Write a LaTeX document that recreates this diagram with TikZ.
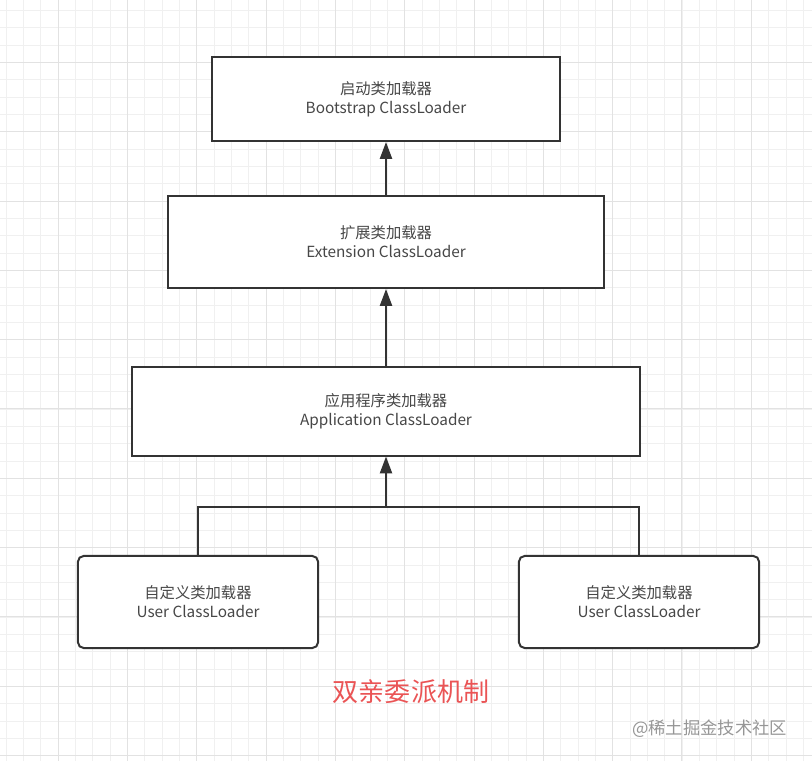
\documentclass[tikz,border=0pt]{standalone}
\usepackage{fontspec}
\setmainfont{Noto Sans CJK SC}
\usetikzlibrary{arrows.meta, positioning}
\definecolor{boxline}{RGB}{51, 51, 51}
\definecolor{minorgrid}{RGB}{240, 240, 240}
\definecolor{majorgrid}{RGB}{226, 226, 226}
\definecolor{titlered}{RGB}{234, 84, 85}
\definecolor{markgray}{RGB}{150, 150, 150}
\tikzset{
  loaderbox/.style={rectangle, draw=boxline, fill=white, line width=0.05cm, align=center, font=\fontsize{10.9}{13.5}\selectfont, text=boxline!90},
  userbox/.style={loaderbox, rounded corners=4pt},
  parentarrow/.style={draw=boxline, line width=0.05cm, -{Triangle[length=0.42cm, width=0.3cm]}},
  link/.style={draw=boxline, line width=0.05cm},
}
\begin{document}
\begin{tikzpicture}[x=0.025cm, y=-0.025cm]
\useasboundingbox (0,0) rectangle (812,761);
% grid
\foreach \k in {0,...,46} {
  \draw[minorgrid, line width=0.6pt] ({6.1+17.33*\k},0) -- ({6.1+17.33*\k},761);
}
\foreach \k in {0,...,43} {
  \draw[minorgrid, line width=0.6pt] (0,{10.4+17.33*\k}) -- (812,{10.4+17.33*\k});
}
\foreach \k in {0,...,11} {
  \draw[majorgrid, line width=0.6pt] ({58+69.32*\k},0) -- ({58+69.32*\k},761);
  \draw[majorgrid, line width=0.6pt] (0,{62.3+69.32*\k}) -- (812,{62.3+69.32*\k});
}

% loaders
\node[loaderbox, minimum width=8.7cm, minimum height=2.1cm] (boot) at (386,99) {启动类加载器\\Bootstrap ClassLoader};
\node[loaderbox, minimum width=10.9cm, minimum height=2.3cm] (ext) at (386,242) {扩展类加载器\\Extension ClassLoader};
\node[loaderbox, minimum width=12.7cm, minimum height=2.2cm] (app) at (386,411.5) {应用程序类加载器\\Application ClassLoader};
\node[userbox, minimum width=6cm, minimum height=2.3cm] (userA) at (198,602) {自定义类加载器\\User ClassLoader};
\node[userbox, minimum width=6cm, minimum height=2.3cm] (userB) at (639,602) {自定义类加载器\\User ClassLoader};
\coordinate (join) at (386,507);

% delegation
\draw[parentarrow] (ext.north -| boot.south) -- (boot.south);
\draw[parentarrow] (app.north -| ext.south) -- (ext.south);
\draw[link] (userA.north) |- (join) -| (userB.north);
\draw[parentarrow] (join) -- (join |- app.south);

% captions
\node[text=titlered, font=\fontsize{18.5}{20}\selectfont] (title) at (411,692) {双亲委派机制};
\node[text=markgray, font=\fontsize{12.3}{14}\selectfont, anchor=east] (mark) at (792,729) {@稀土掘金技术社区};
\end{tikzpicture}
\end{document}
